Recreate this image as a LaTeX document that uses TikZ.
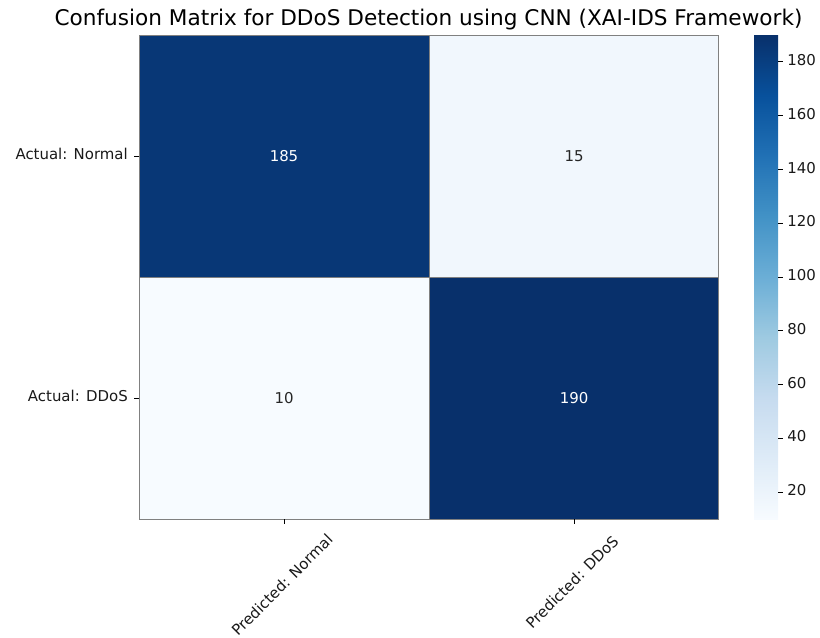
\documentclass[tikz,border=0pt]{standalone}
\usepackage{fontspec}
\setmainfont{DejaVu Sans}
\definecolor{bl0}{RGB}{247,251,255}
\definecolor{bl1}{RGB}{222,235,247}
\definecolor{bl2}{RGB}{198,219,239}
\definecolor{bl3}{RGB}{158,202,225}
\definecolor{bl4}{RGB}{107,174,214}
\definecolor{bl5}{RGB}{66,146,198}
\definecolor{bl6}{RGB}{33,113,181}
\definecolor{bl7}{RGB}{8,81,156}
\definecolor{bl8}{RGB}{8,48,107}
\definecolor{c185}{RGB}{8,55,118}
\definecolor{c190}{RGB}{8,48,107}
\definecolor{c15}{RGB}{241,247,253}
\definecolor{c10}{RGB}{247,251,255}
\definecolor{darktext}{RGB}{38,38,38}
\pgfdeclareverticalshading{bluesmap}{100bp}{color(0bp)=(bl0); color(25bp)=(bl0); color(31.25bp)=(bl1); color(37.5bp)=(bl2); color(43.75bp)=(bl3); color(50bp)=(bl4); color(56.25bp)=(bl5); color(62.5bp)=(bl6); color(68.75bp)=(bl7); color(75bp)=(bl8); color(100bp)=(bl8)}
\tikzset{
  cell/.style={draw=gray, line width=0.4pt},
  tickmark/.style={draw=black, line width=0.6pt},
  ticklabel/.style={font=\fontsize{11.2}{13}\selectfont, text=black!90, inner sep=0pt},
  annot/.style={font=\fontsize{11.2}{13}\selectfont, inner sep=0pt},
  titlestyle/.style={font=\fontsize{16.2}{19}\selectfont, text=black, inner sep=0pt}
}
\begin{document}
\begin{tikzpicture}[x=0.75pt, y=-0.75pt]
\useasboundingbox (0,0) rectangle (820,637);
% cells
\filldraw[cell, fill=c185] (139,35) rectangle (429,277);
\filldraw[cell, fill=c15] (429,35) rectangle (718,277);
\filldraw[cell, fill=c10] (139,277) rectangle (429,519);
\filldraw[cell, fill=c190] (429,277) rectangle (718,519);
% annotations
\node[annot, text=white] (a11) at (284,156) {185};
\node[annot, text=darktext] (a12) at (574,156) {15};
\node[annot, text=darktext] (a21) at (284,398) {10};
\node[annot, text=white] (a22) at (574,398) {190};
% title
\node[titlestyle, anchor=base] (title) at (428.5,25) {Confusion Matrix for DDoS Detection using CNN (XAI-IDS Framework)};
% y ticks
\coordinate (yt1) at (139,156);
\coordinate (yt2) at (139,398);
\draw[tickmark] (yt1) -- ++(-5,0);
\draw[tickmark] (yt2) -- ++(-5,0);
\node[ticklabel, anchor=mid east] (yl1) at (128,156) {Actual: Normal};
\node[ticklabel, anchor=mid east] (yl2) at (128,398) {Actual: DDoS};
% x ticks
\coordinate (xt1) at (284,519);
\coordinate (xt2) at (574,519);
\draw[tickmark] (xt1) -- ++(0,5);
\draw[tickmark] (xt2) -- ++(0,5);
\node[ticklabel, rotate=45] (xl1) at (282,585) {Predicted: Normal};
\node[ticklabel, rotate=45] (xl2) at (572,582) {Predicted: DDoS};
% colorbar
\shade[shading=bluesmap] (754,35) rectangle (778,519);
\foreach \v in {20,40,...,180} {
  \pgfmathsetmacro{\yy}{519-(\v-10)/180*484}
  \draw[tickmark] (778,\yy) -- (783,\yy);
  \node[ticklabel, anchor=mid west] at (787,\yy) {\v};
}
\end{tikzpicture}
\end{document}
